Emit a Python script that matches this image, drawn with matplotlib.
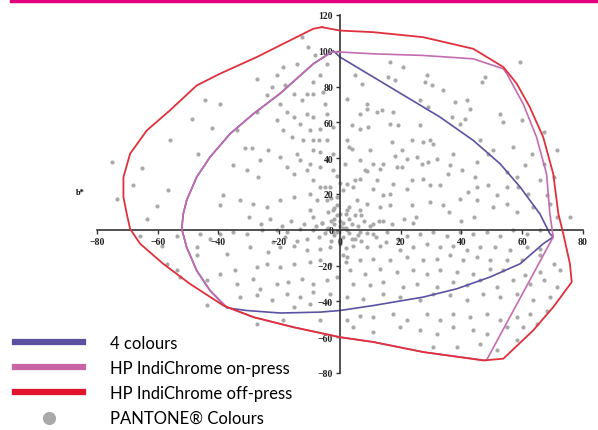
import matplotlib
matplotlib.use("Agg")
import matplotlib.pyplot as plt
from matplotlib.patches import Rectangle

# gamut outlines (a*, b*)
red_a = [-6.0, 0, 11, 27.4, 43.9, 53.8, 58.2, 62.5, 66.9, 70.2, 71.9, 73.5, 75.7, 76.3,
         70.2, 63.6, 53.8, 47.2, 27.4, 11, 0, -15.4, -28.5, -38.4, -49.4, -58.2, -65.8,
         -69.1, -70.2, -71.3, -71.3, -69.1, -63.6, -56, -47.2, -39.5, -27.4, -15.4, -8.8, -6.0]
red_b = [113.2, 111.3, 110.4, 107.6, 101.1, 90.9, 81.6, 68.5, 51.8, 31.3, 8.9, -2.2, -19, -29.2,
         -43.2, -56.2, -72, -73, -68.3, -62.7, -60, -54.4, -48.8, -42.3, -30.2, -19, -7.8,
         0.5, 8.9, 18.3, 29.4, 42.5, 55.5, 66.7, 80.6, 87.2, 96.5, 106.7, 112.3, 113.2]

mag_a = [0, 11, 27.4, 43.9, 53.8, 54.9, 60.3, 64.7, 68, 69.1, 70.2, 48.2,
         27.4, 11, 0, -15.4, -28.5, -37.3, -42.8, -47.2, -50.5, -52.1, -51.6, -50.5,
         -47.2, -42.8, -36.2, -28.5, -19.8, -8.8, -2.7, 0]
mag_b = [99.3, 98.3, 97.4, 95.5, 89.9, 87.2, 70.4, 51.8, 31.3, 8.9, -4, -73,
         -68.3, -62.7, -60, -54.4, -48.8, -43.2, -33.9, -22.7, -9.7, 0.5, 8.9, 16.4,
         29.4, 40.6, 53.6, 64.8, 76, 92.7, 99.3, 99.3]

blue_a = [0, 11, 22, 32.9, 43.9, 52.7, 59.3, 65.8, 69.1, 70.2, 66.9, 59.3, 49.4, 38.4,
          27.4, 11, 0, -6.6, -19.7, -30.7, -37.3, -42.8, -47.2, -50.5, -52.1, -51.6,
          -50.5, -47.2, -42.8, -36.2, -28.5, -19.8, -8.8, -2.2, 0]
blue_b = [96.5, 85.3, 74.1, 63, 49.9, 36.9, 23.9, 8.9, -2.2, -4, -7.8, -19, -26.4, -33,
          -37.6, -42.3, -45.1, -46, -46.5, -45.1, -43.6, -33.9, -22.7, -9.7, 0.5, 8.9,
          16.4, 29.4, 40.6, 53.6, 64.8, 76, 92.7, 100, 96.5]

# PANTONE colours
pan_a = [-12.6, -10.4, -8.2, -4.4, -18.6, -14.2, -27.4, -20.8, -18.1, -22.5, -6.6, -8.8,
         -24.1, -15.3, -11, -8.8, -5.5, -12.6, -4.9, -44.4, -39.5, -48.8, -42.2, -27.4,
         -34, -19.7, -17.5, -20.8, -15.3, -11, -8.8, -4.4, -13.2, -18.6, -9.9, -6.6, -2.2,
         -15.9, -12.1, -8.8, -4.4, -56, -31.3, -29.1, -23.6, -46.6, -19.7, -14.3, -8.8,
         -6.6, -2.2, -35.1, -26.3, -17.5, -13.2, -9.9, -4.4, -75.2, -65.3, -30.7, -26.9,
         -15.3, -11, -6.6, -2.2, -68, -56.5, -38.4, -32.9, -28.5, -24.1, -19.7, -15.3,
         -8.8, -6.6, -3.3, -7.7, -4.4, -1.1, -73.5, -60.4, -39.5, -9.9, -2.2,
         59.3, 16.5, 20.9, 4.9, 7.1, 15.9, 18.1, 28.5, 28, 30.2, 47.7, 46.7, 34, 2.2, 8.8,
         8.8, 6.6, 12.1, 13.7, 17.6, 26.3, 29.1, 37.9, 41.7, 42.8, 52.7, 53.8, 59.8, 41.2,
         39.5, 36.8, 16.5, 19.2, 26.3, 3.8, 6.6, 9.3, 2.2, 17, 23.6, 27.4, 29.6, 30.7,
         46.1, 50.5, 67, 71.4, 63.1, 57.1, 3.8, 9.9, 20.3, 22, 25.2, 31.8, 37.3, 45, 48.8,
         60.9, 67, 54.9, 58.2, 58.7, 65.9, 70.3, 6.6, 11, 1.6, 13.2, 8.2, 18.7, 20.3, 26.9,
         29.1, 36.2, 40.1, 44.5, 35.7, 27.4, 29.6, 23.6, 17.6, 12.1, 6.6, 4.4, 2.2, 11,
         14.3, 16.5, 22, 32.9, 42.3, 45, 48.8, 51.6, 54.9, 62, 68.1, 63.7, 69.2, 5.5, 8.8,
         13.2, 16.5, 23.6, 29.6, 34, 39.5, 45, 50.5, 54.9, 58.2, 2.2, 6.6,
         -63.6, -65.8, -58.7, -53.8, -47.2, -46.1, -42.8, -39.5, -35.1, -30.7, -25.8,
         -20.8, -17.5, -13.2, -8.8, -4.4, -2.2, -47.2, -37.3, -29.6, -23.6, -19.7, -15.3,
         -11, -6.6, -3.3, -39.5, -34.6, -27.4, -24.1, -19.7, -15.3, -9.9, -6.6, -3.3,
         -43.9, -34, -28.5, -26.3, -20.8, -17, -12.6, -8.8, -4.4, -1.1, -32.9, -27.4,
         -22.5, -17.5, -13.2, -8.8, -3.3, -15.3, -9.9, -4.4, -53.8, -57.1, -52.7, -18.6,
         -6.6, -43.9, -27.4,
         2.2, 6.6, 11, 15.4, 22, 26.3, 30.7, 35.1, 39.5, 43.9, 48.3, 52.7, 57.1, 61.5,
         65.9, 71.4, 75.7, 4.4, 8.8, 13.2, 19.8, 24.1, 28.5, 32.9, 37.3, 41.7, 46.1, 51,
         56, 61.5, 65.9, 2.2, 6.6, 11, 16.5, 22, 27.4, 31.8, 36.2, 40.6, 45, 49.4, 54.9,
         59.8, 65.9, 3.3, 8.2, 13.2, 18.7, 24.1, 28.5, 32.9, 38.4, 43.9, 49.4, 53.8, 60.9,
         65.9, 70.3, 72.4, 4.4, 9.9, 14.3, 20.9, 25.2, 31.8, 37.3, 41.7, 46.1, 51.6, 57.1,
         62.6, 67, 71.4, 2.2, 7.7, 14.3, 19.8, 26.3, 30.7, 36.2, 41.7, 47.2, 52.7, 58.2,
         63.7, 69.2, 2.2, 6.6, 11, 17.6, 22, 28.5, 32.9, 37.3, 42.8, 48.3, 52.7, 58.2, 62.6,
         68.1, 4.4, 11, 19.8, 26.3, 31.8, 37.3, 43.9, 48.3, 54.9, 60.4, 30.7, 38.4, 46.1,
         51.6, 58.2, 64.8,
         -3, -2, 0, 1, 2, 3, -4, -1, 2, 4, -5, -2, 1, 3, 5, -3, 0, 2, 6, 8, -6, -8, 6, 9,
         -7, -1, 1, 0, -2, 3, 5, -4,
         -12, -16, -19, -23, -9, -6, 10, 13, 17, 21, 24, 7, -11, -14, -18, -22, 4, 7,
         12, 15, 19, -1, -3, 1, 0, -1, 1, 2, -2, 0, 11, 14, 25, -26, -30, 36, 40, 44,
         -10, -5, 5, 9, 14, 18, 3, -7]
pan_b = [107.7, 102, 97.4, 92.8, 91, 92.8, 84.4, 86.2, 80.7, 79.7, 86.2, 82.5, 75.1, 76,
         76, 76, 77, 72.3, 70.4, 72.7, 70.1, 62, 57, 65.8, 55.5, 70.4, 65.8, 61.1, 63,
         64.8, 63, 64.8, 59.2, 55.5, 55.5, 56.5, 57.4, 51.8, 49.9, 49.9, 49.9, 50.3, 45.8,
         45.8, 44.4, 42.1, 40.6, 42.5, 44.4, 43.4, 42.5, 36, 38.8, 35, 38.8, 36.9, 38.8,
         37.8, 34.7, 33.2, 29.5, 31.3, 33.2, 35, 33.2, 24.8, 22, 19.2, 16.4, 14.6, 12.7,
         16.4, 18.3, 27.6, 23.9, 23.9, 16.4, 16.4, 18.3, 17.4, 13.1, 13.6, 10.8, 10.8,
         93.7, 93.7, 90.9, 86.2, 81.6, 85.3, 83.5, 86.2, 82.5, 80.7, 85.3, 82.5, 77.9, 73.2,
         70.4, 67.6, 64.8, 65.8, 66.7, 65.8, 72.3, 68.6, 71.4, 72.3, 67.6, 64.8, 60.2, 61.1,
         62, 59.2, 63, 59.2, 58.3, 58.3, 58.3, 56.5, 57.4, 49.9, 49, 49.9, 49, 49.9, 48.1,
         49.9, 44.4, 54.6, 44.4, 42.5, 46.2, 45.3, 44.4, 44.4, 39.7, 40.6, 39.7, 42.5, 37.8,
         42.5, 36, 36.9, 32.2, 29.5, 23.9, 27.6, 29.5, 38.8, 36.9, 36.9, 34.1, 33.2, 35, 35,
         36.9, 37.8, 36, 33.2, 29.5, 31.3, 28.5, 24.8, 27.6, 25.7, 27.6, 28.5, 23.9, 25.7,
         22.9, 19.2, 20.1, 22.9, 24.8, 21.1, 23.9, 24.8, 19.2, 23.9, 20.1, 19.2, 12.7, 14.6,
         16.4, 14.6, 12.7, 13.6, 13.6, 15.5, 13.6, 17.4, 16.4, 12.7, 14.6, 9.9, 10.8, 10.8,
         6.2, -3.2, -8.8, -3.2, -9.7, -2.2, -5, -2.2, -1.3, -2.2, -0.4, -0.4, -1.3, 0.6,
         -0.4, 0.6, -1.3, -14.3, -13.4, -9.7, -12.5, -9.7, -8.8, -11.5, -10.6, -9.7, -24.6,
         -22.7, -20.9, -19, -20.9, -19, -18.1, -17.1, -19, -28.3, -30.2, -27.4, -33, -30.2,
         -29.2, -27.4, -30.2, -28.3, -26.4, -37.6, -36.7, -39.5, -35.8, -37.6, -34.8, -35.8,
         -43.2, -41.3, -40.4, -22.7, -19, -26.4, -50.6, -50.6, -42.3, -52.5,
         -0.4, -1.3, -2.2, -1.3, -3.2, -2.2, -1.3, -3.2, -1.3, -2.2, -1.3, -3.2, -0.4, -2.2,
         -0.4, 7.1, 7.1, -8.8, -9.7, -8.8, -11.5, -9.7, -7.8, -9.7, -8.8, -11.5, -9.7, -9.7,
         -11.5, -9.7, -10.6, -15.3, -17.1, -16.2, -17.1, -15.3, -17.1, -16.2, -14.3, -17.1,
         -15.3, -17.1, -17.1, -17.1, -14.3, -22.7, -24.6, -21.8, -23.6, -22.7, -24.6, -22.7,
         -23.6, -24.6, -21.8, -22.7, -25.5, -23.6, -19, -22.7, -30.2, -31.1, -29.2, -32,
         -30.2, -32, -29.2, -31.1, -28.3, -32, -28.3, -30.2, -28.3, -32, -37.6, -38.5,
         -35.8, -37.6, -39.5, -35.8, -36.7, -39.5, -35.8, -37.6, -35.8, -39.5, -37.6, -50.6,
         -47.9, -48.8, -46.9, -50.6, -46.9, -50.6, -46.9, -48.8, -46.9, -50.6, -48.8, -46.9,
         -45.1, -54.4, -57.2, -54.4, -56.2, -58.1, -54.4, -56.2, -58.1, -54.4, -54.4, -65.5,
         -65.5, -63.7, -67.4, -61.8, -52.5,
         5, 3, 2, 4, 1, 6, 1, 8, 9, 3, -2, -3, -4, -2, -5, -6, -8, -10, 2, 5, 4, 2, -3, -2,
         -4, -1, 1, 5, 12, 13, 8, 10,
         3, 5, 2, 6, 7, 4, 2, 5, 3, 6, 4, 8, -5, -6, -4, -7, -5, -6, -4, -7, -5, 14, 18,
         22, 26, 30, -14, -18, 6, 9, 3, 5, 7, 3, 7, 10, 5, 7, 20, 24, 28, 33, 37, 41, 46, 50]

labels = ["4 colours", "HP IndiChrome on-press", "HP IndiChrome off-press",
          "PANTONE\u00ae Colours"]
ticks_x = [-80, -60, -40, -20, 0, 20, 40, 60, 80]
ticks_y = [-80, -60, -40, -20, 0, 20, 40, 60, 80, 100, 120]

fig = plt.figure(figsize=(5.98, 4.31), dpi=100)
fig.patches.append(Rectangle((0.017, 0.993), 0.983, 0.007, transform=fig.transFigure,
                             color="#e0007a", zorder=5))
ax = fig.add_axes([0.1622, 0.1323, 0.8127, 0.8306])

sc = ax.scatter(pan_a, pan_b, s=9, color="#a9a9a9", linewidths=0, zorder=1, clip_on=False)
l1, = ax.plot(blue_a, blue_b, color="#5a52a2", lw=1.2, zorder=2, clip_on=False)
l2, = ax.plot(mag_a, mag_b, color="#c46cb0", lw=1.2, zorder=3, clip_on=False)
l3, = ax.plot(red_a, red_b, color="#e0303c", lw=1.3, zorder=4, clip_on=False)

ax.set_xlim(-80, 80)
ax.set_ylim(-80, 120)
for s in ["right", "top"]:
    ax.spines[s].set_visible(False)
ax.spines["left"].set_position("zero")
ax.spines["bottom"].set_position("zero")
for s in ["left", "bottom"]:
    ax.spines[s].set_color("#333333")
    ax.spines[s].set_linewidth(1.2)
ax.set_xticks(ticks_x)
ax.set_yticks(ticks_y)
ax.tick_params(direction="out", length=3, width=1, colors="#333333", pad=2,
               labelsize=7)
for t in ax.get_xticklabels() + ax.get_yticklabels():
    t.set_fontfamily("Liberation Serif")
    t.set_fontweight("bold")
    t.set_color("#222222")
ax.text(-85.6, 21, "b*", fontsize=6, family="Liberation Serif", fontweight="bold",
        ha="center", va="center", clip_on=False)
ax.patch.set_visible(False)

leg = fig.legend([l1, l2, l3, sc], labels, loc="lower left", bbox_to_anchor=(0.025, 0.01),
                 frameon=False, borderpad=0, borderaxespad=0, handlelength=4.1,
                 handletextpad=1.6, labelspacing=0.53,
                 prop={"family": "Lato", "size": 12})
for h, c in zip(leg.legend_handles[:3], ["#5b4fa0", "#c964a4", "#e2132c"]):
    h.set_color(c)
    h.set_linewidth(4.5)
leg.legend_handles[3].set_sizes([90])
leg.legend_handles[3].set_color("#a9a9a9")

fig.savefig("out.png", dpi=100)
